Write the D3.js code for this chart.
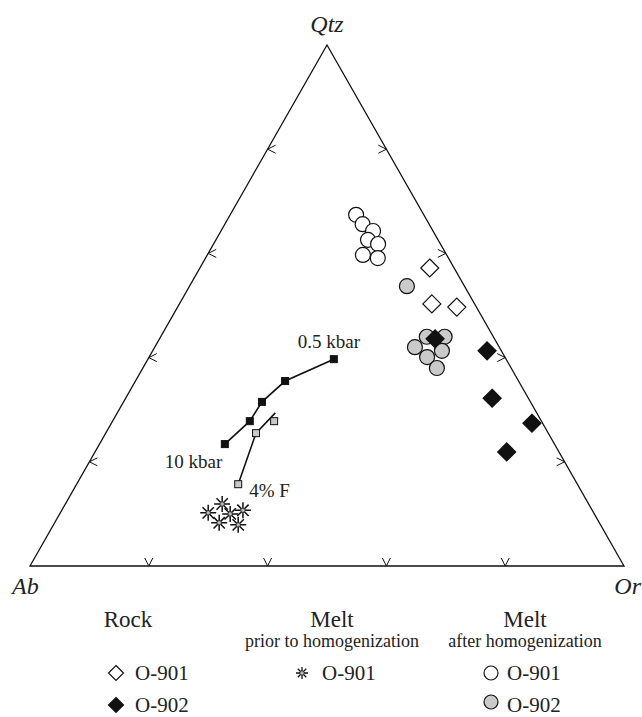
<!DOCTYPE html>
<html>
<head>
<meta charset="utf-8">
<script src="https://cdn.jsdelivr.net/npm/d3@7"></script>
<style>
  body { margin: 0; background: #fff; }
</style>
</head>
<body>
<div id="plot"></div>
<script>
// compositions as [Qtz, Ab, Or] in %
const rockO901 = [[57.2, 4.1, 38.7], [50.3, 7.2, 42.5], [49.7, 3.3, 47.0]];
const rockO902 = [[43.6, 10.0, 46.4], [41.3, 2.4, 56.3], [32.2, 6.1, 61.7], [27.4, 1.8, 70.8], [21.9, 8.8, 69.3]];
const meltPriorO901 = [[11.9, 61.7, 26.4], [10.2, 65.0, 24.9], [10.0, 61.3, 28.7], [10.7, 58.8, 30.5], [8.3, 64.1, 27.7], [7.9, 61.0, 31.1]];
const meltAfterO901 = [[67.4, 11.4, 21.2], [65.6, 11.1, 23.2], [64.3, 10.1, 25.6], [62.6, 11.8, 25.6], [61.8, 10.5, 27.7], [59.7, 14.1, 26.2], [59.1, 11.9, 29.0]];
const meltAfterO902 = [[53.7, 9.7, 36.6], [44.0, 11.2, 44.8], [44.0, 8.2, 47.8], [42.0, 14.2, 43.8], [40.1, 13.1, 46.8], [41.3, 10.0, 48.7], [38.0, 12.5, 49.5]];
// pressure trend 0.5 kbar -> 10 kbar
const pressureCurve = [[39.7, 29.0, 31.3], [35.5, 39.3, 25.2], [31.5, 45.2, 23.3], [27.8, 49.1, 23.1], [23.4, 55.5, 21.1]];
// fluorine trend
const fluorineSquares = [[27.8, 45.0, 27.2], [25.5, 49.2, 25.3], [15.7, 57.1, 27.2]];
const fluorineLine = [[15.7, 57.1, 27.2], [25.5, 49.2, 25.3], [29.4, 44.1, 26.6]];
const tickFractions = [20, 40, 60, 80];
const vertexLabels = ["Qtz", "Ab", "Or"];

const w = 642, h = 717;
const serif = "'Liberation Serif', 'Times New Roman', 'DejaVu Serif', serif";

// cartesian scales of the ternary projection
const xScale = d3.scaleLinear().domain([0, 100]).range([30, 624]);
const yScale = d3.scaleLinear().domain([0, 100]).range([566, 45]);
const pt = d => [xScale(d[2] + d[0] / 2), yScale(d[0])];

const svg = d3.select("div#plot")
  .append("svg")
  .attr("width", w)
  .attr("height", h)
  .attr("font-family", serif);

// triangle frame
const apex = pt([100, 0, 0]), ab = pt([0, 100, 0]), or = pt([0, 0, 100]);
svg.append("path")
  .attr("d", d3.line()([ab, or, apex]) + "Z")
  .attr("fill", "none")
  .attr("stroke", "#111")
  .attr("stroke-width", 1.3);

// chevron ticks on each edge
const tickG = svg.append("g")
  .attr("fill", "none")
  .attr("stroke", "#111")
  .attr("stroke-width", 1);

tickFractions.forEach(t => {
  // base: "v"
  const b = pt([0, 100 - t, t]);
  tickG.append("path").attr("d", `M${b[0] - 4},${b[1] - 8}L${b[0]},${b[1]}L${b[0] + 4},${b[1] - 8}`);
  // left edge: "<"
  const l = pt([t, 100 - t, 0]);
  tickG.append("path").attr("d", `M${l[0] + 8},${l[1] - 4}L${l[0]},${l[1]}L${l[0] + 8},${l[1] + 4}`);
  // right edge: ">"
  const r = pt([t, 0, 100 - t]);
  tickG.append("path").attr("d", `M${r[0] - 8},${r[1] - 4}L${r[0]},${r[1]}L${r[0] - 8},${r[1] + 4}`);
});

// vertex labels
const vtx = (x, y, anchor, t) => svg.append("text")
  .attr("x", x).attr("y", y).attr("text-anchor", anchor)
  .attr("font-family", serif)
  .style("font-size", "24px").style("font-style", "italic").style("fill", "#222")
  .text(t);
vtx(apex[0], 32, "middle", vertexLabels[0]);
vtx(12, 594, "start", vertexLabels[1]);
vtx(641, 594, "end", vertexLabels[2]);

// trend lines
svg.append("path")
  .attr("d", d3.line()(pressureCurve.map(pt)))
  .attr("fill", "none").attr("stroke", "#111").attr("stroke-width", 1.6);
svg.append("path")
  .attr("d", d3.line()(fluorineLine.map(pt)))
  .attr("fill", "none").attr("stroke", "#111").attr("stroke-width", 1.6);

// symbol helpers
function diamond(g, p, s, fill) {
  g.append("path")
    .attr("d", `M${p[0]},${p[1] - s}L${p[0] + s},${p[1]}L${p[0]},${p[1] + s}L${p[0] - s},${p[1]}Z`)
    .attr("fill", fill).attr("stroke", "#111").attr("stroke-width", 1.2);
}
function circle(g, p, r, fill) {
  g.append("circle").attr("cx", p[0]).attr("cy", p[1]).attr("r", r)
    .attr("fill", fill).attr("stroke", "#111").attr("stroke-width", 1.2);
}
function square(g, p, s, fill) {
  g.append("rect").attr("x", p[0] - s / 2).attr("y", p[1] - s / 2).attr("width", s).attr("height", s)
    .attr("fill", fill).attr("stroke", "#111").attr("stroke-width", 1);
}
function asterisk(g, p, r, sw) {
  let d = "";
  for (let k = 0; k < 4; k++) {
    const a = k * Math.PI / 4;
    d += `M${p[0] - r * Math.cos(a)},${p[1] - r * Math.sin(a)}L${p[0] + r * Math.cos(a)},${p[1] + r * Math.sin(a)}`;
  }
  g.append("path").attr("d", d).attr("stroke", "#111").attr("stroke-width", sw).attr("fill", "none");
  g.append("circle").attr("cx", p[0]).attr("cy", p[1]).attr("r", 2.2)
    .attr("fill", "#bbb").attr("stroke", "#111").attr("stroke-width", 0.7);
}

const marks = svg.append("g");
pressureCurve.forEach(d => square(marks, pt(d), 7, "#111"));
fluorineSquares.forEach(d => square(marks, pt(d), 7, "#c8c8c8"));
meltPriorO901.forEach(d => asterisk(marks, pt(d), 8, 1.5));
meltAfterO901.forEach(d => circle(marks, pt(d), 7.5, "#fff"));
rockO901.forEach(d => diamond(marks, pt(d), 9, "#fff"));
meltAfterO902.forEach(d => circle(marks, pt(d), 7.5, "#cacaca"));
rockO902.forEach(d => diamond(marks, pt(d), 9, "#111"));

// curve annotations
const lbl = (x, y, t) => svg.append("text").attr("x", x).attr("y", y)
  .style("font-size", "19px").style("fill", "#222").text(t);
const p05 = pt(pressureCurve[0]);
lbl(p05[0] - 36, p05[1] - 11, "0.5 kbar");
const p10 = pt(pressureCurve[pressureCurve.length - 1]);
lbl(p10[0] - 60, p10[1] + 24, "10 kbar");
const pF = pt(fluorineSquares[2]);
lbl(pF[0] + 11, pF[1] + 13, "4% F");

// legend
const leg = svg.append("g").style("fill", "#222");
const head = (x, t, sub) => {
  leg.append("text").attr("x", x).attr("y", 627).attr("text-anchor", "middle").style("font-size", "23px").text(t);
  if (sub) leg.append("text").attr("x", x).attr("y", 647).attr("text-anchor", "middle").style("font-size", "18px").text(sub);
};
head(128, "Rock");
head(332, "Melt", "prior to homogenization");
head(525, "Melt", "after homogenization");

const item = (x, y, t) => leg.append("text").attr("x", x).attr("y", y).style("font-size", "21px").text(t);
diamond(leg, [116, 673], 7.5, "#fff"); item(135, 680, "O-901");
diamond(leg, [116, 705], 7.5, "#111"); item(135, 712, "O-902");
asterisk(leg, [302, 673], 6, 1.3); item(322, 680, "O-901");
circle(leg, [491, 673], 7, "#fff"); item(507, 680, "O-901");
circle(leg, [491, 702], 7, "#cacaca"); item(507, 712, "O-902");
</script>
</body>
</html>
